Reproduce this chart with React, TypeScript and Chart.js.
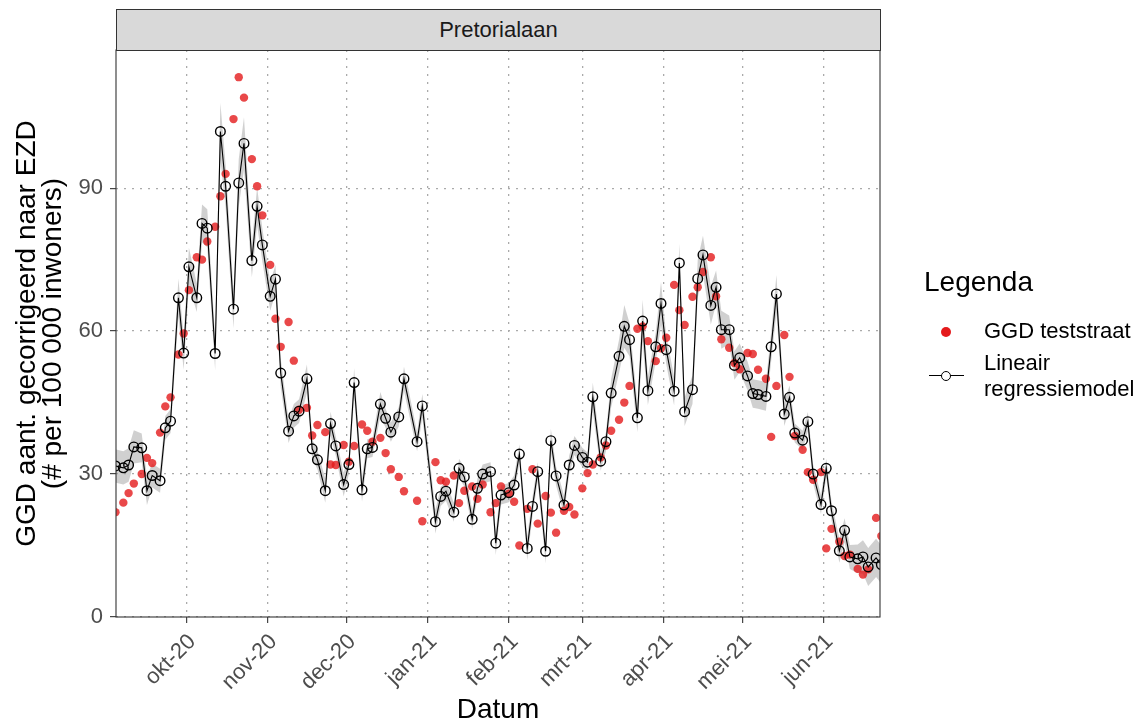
import React, { useEffect, useRef } from 'react';
import { Chart, registerables } from 'chart.js';

Chart.register(...registerables);

// Day index: 0 = 1 Sep 2020 (measurements on Mon / Wed / Fri)
const days = [
  3, 6, 8, 10, 13, 15, 17, 20, 22, 24,
  27, 29, 31, 34, 36, 38, 41, 43, 45, 48,
  50, 52, 55, 57, 59, 62, 64, 66, 69, 71,
  73, 76, 78, 80, 83, 85, 87, 90, 92, 94,
  97, 99, 101, 104, 106, 108, 111, 113, 118, 120,
  125, 127, 129, 132, 134, 136, 139, 141, 143, 146,
  148, 150, 153, 155, 157, 160, 162, 164, 167, 169,
  171, 174, 176, 178, 181, 183, 185, 188, 190, 192,
  195, 197, 199, 202, 204, 206, 209, 211, 213, 216,
  218, 220, 223, 225, 227, 230, 232, 234, 237, 239,
  241, 244, 246, 248, 251, 253, 255, 258, 260, 262,
  265, 267, 269, 272, 274, 276, 279, 281, 283, 286,
  288, 290, 293, 295,
];

// GGD teststraat (red points)
const ggdValues = [
  22, 24, 26, 28, 30, 33.4, 32.3, 38.7, 44.2, 46.1,
  55.1, 59.5, 68.6, 75.5, 75, 78.8, 81.9, 88.3, 93, 104.5,
  113.3, 109, 96.1, 90.4, 84.3, 73.9, 62.6, 56.7, 61.9, 53.8,
  43.5, 43.9, 38.1, 40.3, 38.8, 32, 31.9, 36.1, 32.6, 35.9,
  40.4, 39.1, 36.8, 37.6, 34.4, 31, 29.4, 26.4, 24.4, 20.1,
  32.5, 28.7, 28.4, 29.7, 23.9, 26.5, 27.4, 24.8, 27.8, 22,
  23.9, 27.4, 25.9, 24.2, 15, 22.7, 31, 19.6, 25.4, 21.9,
  17.7, 22.3, 23.1, 21.5, 27, 30.2, 32, 33.5, 36, 39.1,
  41.4, 45, 48.5, 60.5, 61, 57.9, 53.7, 56.4, 58.6, 69.7,
  64.4, 61.3, 67.2, 69.2, 72.4, 75.5, 67.3, 58.3, 56.5, 53.3,
  52, 55.4, 55.2, 51.9, 50, 37.8, 48.5, 59.2, 50.4, 38,
  35.1, 30.4, 28.8, 30.4, 14.4, 18.5, 15.8, 12.8, 13.1, 10.1,
  8.9, 10, 20.8, 17,
];

// Lineair regressiemodel (black line with open circles)
const modelValues = [
  31.7, 31.3, 31.9, 35.7, 35.5, 26.5, 29.7, 28.6, 39.7, 41.1,
  67, 55.4, 73.5, 67, 82.6, 81.6, 55.3, 101.9, 90.4, 64.6,
  91.1, 99.4, 74.8, 86.2, 78.1, 67.3, 70.9, 51.2, 39, 42.2,
  43.2, 50, 35.3, 33, 26.5, 40.6, 35.9, 27.8, 32, 49.2,
  26.7, 35.3, 35.6, 44.7, 41.7, 38.8, 42, 50, 36.8, 44.3,
  20, 25.3, 26.4, 22, 31.2, 29.4, 20.5, 27, 30, 30.5,
  15.5, 25.6, 26.1, 27.7, 34.2, 14.4, 23.2, 30.5, 13.8, 37,
  29.6, 23.5, 31.9, 36, 33.5, 32.5, 46.2, 32.7, 36.8, 47,
  54.7, 61, 58.2, 41.8, 62.1, 47.5, 56.7, 65.8, 56.1, 47.4,
  74.3, 43.1, 47.7, 71, 76, 65.4, 69.2, 60.3, 60.3, 52.8,
  54.4, 50.6, 46.9, 46.7, 46.3, 56.7, 67.8, 42.6, 46.1, 38.6,
  37.1, 41, 30, 23.6, 31.2, 22.3, 13.9, 18.2, 12.6, 12.2,
  12.6, 10.5, 12.4, 11,
];

// Half width of the grey confidence band around the model
const ribbonHalfWidth = [
  3.5, 3.5, 3.5, 3.5, 3, 3, 2.5, 2.5, 2.5, 2.5,
  4, 3.5, 4, 3, 4, 4, 3.5, 6, 4.5, 4,
  5, 5.5, 3.5, 4, 3.5, 3, 3, 3, 2.5, 2.5,
  2.5, 3, 2, 2, 2.5, 2.5, 2, 2.5, 2, 3,
  2.5, 2, 2, 2.5, 2, 2, 2, 2.5, 2, 2.5,
  2.5, 2, 2, 2, 2, 2, 2, 2, 2, 2,
  2.5, 2, 2, 2, 2, 2.5, 2, 2, 2.5, 2.5,
  2, 2, 2, 2, 2, 2, 3, 2, 2, 3,
  3.5, 4.5, 3.5, 3, 4.5, 3, 3, 4.5, 3, 3,
  4, 3, 3, 4, 4, 4, 3.5, 4, 3, 3,
  3, 3, 3, 3, 3, 3, 4, 2.5, 2.5, 2,
  2, 2, 2, 2, 2, 2, 2.5, 2.5, 2.5, 3,
  3.5, 4, 4, 4,
];

const monthTickDays = [30, 61, 91, 122, 153, 181, 212, 242, 273];
const monthTickLabels = ['okt-20', 'nov-20', 'dec-20', 'jan-21', 'feb-21', 'mrt-21', 'apr-21', 'mei-21', 'jun-21'];
const yTickValues = [0, 30, 60, 90];

const FONT = '"Liberation Sans", Arial, Helvetica, sans-serif';

const panelBorder = {
  id: 'panelBorder',
  afterDraw(chart: any) {
    const { ctx, chartArea: a } = chart;
    ctx.save();
    ctx.strokeStyle = '#333333';
    ctx.lineWidth = 1.1;
    ctx.strokeRect(a.left, a.top, a.right - a.left, a.bottom - a.top);
    ctx.restore();
  },
};

export default function App() {
  const canvasRef = useRef<HTMLCanvasElement | null>(null);

  useEffect(() => {
    if (!canvasRef.current) return;
    Chart.defaults.font.family = FONT;

    const modelPoints = days.map((d, i) => ({ x: d, y: modelValues[i] }));
    const ggdPoints = days.map((d, i) => ({ x: d, y: ggdValues[i] }));
    const lowerPoints = days.map((d, i) => ({ x: d, y: modelValues[i] - ribbonHalfWidth[i] }));
    const upperPoints = days.map((d, i) => ({ x: d, y: modelValues[i] + ribbonHalfWidth[i] }));

    const gridCommon = {
      color: '#AAAAAA',
      lineWidth: 1.3,
      drawTicks: true,
      tickLength: 6,
      tickColor: '#333333',
      tickWidth: 1.1,
      tickBorderDash: [],
      borderDash: [2, 6],
    };

    const chart = new Chart(canvasRef.current, {
      type: 'line',
      data: {
        datasets: [
          {
            label: 'Lineair regressiemodel',
            data: modelPoints,
            order: 0,
            borderColor: '#000000',
            borderWidth: 1.1,
            pointRadius: 4.8,
            pointBorderWidth: 1.4,
            pointBorderColor: '#000000',
            pointBackgroundColor: 'rgba(0,0,0,0)',
            fill: false,
            tension: 0,
          },
          {
            label: 'GGD teststraat',
            data: ggdPoints,
            order: 1,
            showLine: false,
            pointRadius: 4.2,
            pointBorderWidth: 0,
            pointBackgroundColor: 'rgba(228,26,28,0.8)',
            pointBorderColor: 'rgba(228,26,28,0)',
            fill: false,
          },
          {
            label: 'lower',
            data: lowerPoints,
            order: 3,
            borderWidth: 0,
            borderColor: 'rgba(0,0,0,0)',
            pointRadius: 0,
            fill: false,
            tension: 0,
          },
          {
            label: 'upper',
            data: upperPoints,
            order: 2,
            borderWidth: 0,
            borderColor: 'rgba(0,0,0,0)',
            pointRadius: 0,
            backgroundColor: 'rgba(150,150,150,0.45)',
            fill: '-1',
            tension: 0,
          },
        ],
      },
      options: {
        responsive: false,
        animation: false,
        events: [],
        layout: { padding: { left: 0, top: 50, right: 263, bottom: 0 } },
        plugins: {
          legend: { display: false },
          tooltip: { enabled: false },
        },
        scales: {
          x: {
            type: 'linear',
            min: 3.2,
            max: 294.5,
            afterBuildTicks: (axis: any) => {
              axis.ticks = monthTickDays.map((v) => ({ value: v }));
            },
            afterFit: (axis: any) => {
              axis.height = 107;
            },
            ticks: {
              autoSkip: false,
              maxRotation: 45,
              minRotation: 45,
              padding: 6,
              labelOffset: 6,
              color: '#4D4D4D',
              font: { size: 22 },
              callback: (value: any) => {
                const idx = monthTickDays.indexOf(Number(value));
                return idx >= 0 ? monthTickLabels[idx] : '';
              },
            },
            grid: gridCommon,
            border: { display: false, dash: [2, 6] },
            title: {
              display: true,
              text: 'Datum',
              color: '#000000',
              font: { size: 28, lineHeight: 1 },
              padding: { top: 0, bottom: 0 },
            },
          },
          y: {
            type: 'linear',
            min: 0,
            max: 119,
            afterBuildTicks: (axis: any) => {
              axis.ticks = yTickValues.map((v) => ({ value: v }));
            },
            afterFit: (axis: any) => {
              axis.width = 116;
            },
            ticks: {
              padding: 7,
              color: '#4D4D4D',
              font: { size: 22 },
            },
            grid: gridCommon,
            border: { display: false, dash: [2, 6] },
            title: {
              display: true,
              text: ['GGD aant. gecorrigeerd naar EZD', '(# per 100 000 inwoners)'],
              color: '#000000',
              font: { size: 28, lineHeight: 0.93 },
              padding: { top: 14, bottom: 0 },
            },
          },
        },
      } as any,
      plugins: [panelBorder],
    });

    return () => chart.destroy();
  }, []);

  return (
    <div
      style={{
        position: 'fixed',
        left: 0,
        top: 0,
        width: 1143,
        height: 724,
        background: '#FFFFFF',
        fontFamily: FONT,
        overflow: 'hidden',
      }}
    >
      <canvas
        ref={canvasRef}
        width={1143}
        height={724}
        style={{ position: 'absolute', left: 0, top: 0, width: 1143, height: 724 }}
      />
      <div
        style={{
          position: 'absolute',
          left: 116,
          top: 9,
          width: 765,
          height: 42,
          boxSizing: 'border-box',
          background: '#D9D9D9',
          border: '1.1px solid #333333',
          display: 'flex',
          alignItems: 'center',
          justifyContent: 'center',
          fontSize: 22,
          color: '#1A1A1A',
        }}
      >
        Pretorialaan
      </div>
      <div style={{ position: 'absolute', left: 924, top: 268, fontSize: 28, lineHeight: '28px', color: '#000' }}>
        Legenda
      </div>
      <div
        style={{
          position: 'absolute',
          left: 941,
          top: 327,
          width: 10,
          height: 10,
          borderRadius: '50%',
          background: '#E41A1C',
        }}
      />
      <div style={{ position: 'absolute', left: 984, top: 320, fontSize: 22, lineHeight: '22px', color: '#000', whiteSpace: 'nowrap' }}>
        GGD teststraat
      </div>
      <div style={{ position: 'absolute', left: 929, top: 375, width: 35, height: 1.2, background: '#000' }} />
      <div
        style={{
          position: 'absolute',
          left: 941,
          top: 370.5,
          width: 10,
          height: 10,
          boxSizing: 'border-box',
          border: '1.5px solid #000',
          borderRadius: '50%',
          background: '#FFFFFF',
        }}
      />
      <div style={{ position: 'absolute', left: 984, top: 350, fontSize: 22, lineHeight: '26px', color: '#000', whiteSpace: 'nowrap' }}>
        Lineair
        <br />
        regressiemodel
      </div>
    </div>
  );
}
